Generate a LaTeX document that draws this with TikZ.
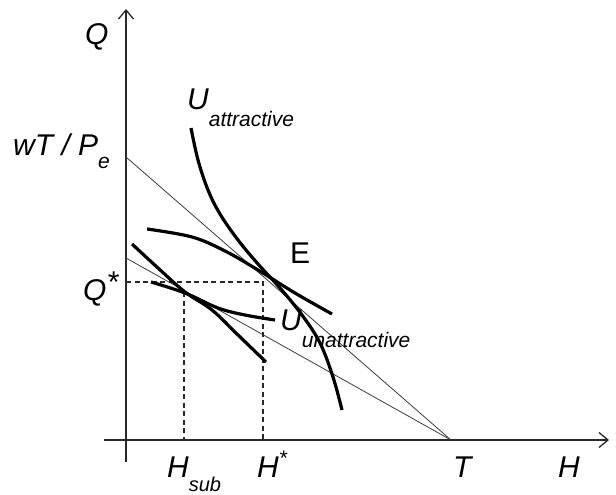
\documentclass[tikz,border=0pt]{standalone}
\usepackage{fontspec}
\setmainfont{Liberation Sans}
\usetikzlibrary{arrows.meta}
\definecolor{axiscol}{RGB}{40,40,40}
\definecolor{budgetcol}{RGB}{60,60,60}
\definecolor{curvecol}{RGB}{0,0,0}

\begin{document}
\begin{tikzpicture}[x=1pt, y=-1pt, >={Straight Barb[length=9pt,width=15pt]},
		axis/.style={axiscol, line width=1.3pt},
		budget/.style={budgetcol, line width=0.8pt},
		icurve/.style={curvecol, line width=3.2pt},
		guide/.style={axiscol, line width=1.2pt, dash pattern=on 5pt off 3.5pt},
		lbl/.style={anchor=base west, inner sep=0pt, font=\fontsize{30}{32}\selectfont\itshape},
	]

	% --- Parameters ---
	\def\subsize{\fontsize{21}{22}\selectfont}

	\useasboundingbox (0,0) rectangle (616,495);

	% =============================================
	%  KEY POINTS
	% =============================================

	\coordinate (O) at (126,440);
	\coordinate (wTP) at (126,157);   % intercept, attractive budget
	\coordinate (Qlow) at (126,258);  % intercept, unattractive budget
	\coordinate (T) at (451,440);
	\coordinate (E) at (263,282);
	\coordinate (S) at (184,292);
	\coordinate (Qstar) at (126,282);
	\coordinate (Hstar) at (263,440);
	\coordinate (Hsub) at (184,440);
	\coordinate (yEnd) at (126,9);
	\coordinate (yBot) at (126,462);
	\coordinate (xEnd) at (609,440);
	\coordinate (xBot) at (104,440);

	% =============================================
	%  AXES
	% =============================================

	\draw[axis, ->] (yBot) -- (yEnd);
	\draw[axis, ->] (xBot) -- (xEnd);

	% =============================================
	%  BUDGET LINES
	% =============================================

	\draw[budget] (wTP) -- (T);
	\draw[budget] (Qlow) -- (T);

	% --- Guides ---
	\draw[guide] (Qstar) -- (E) -- (Hstar);
	\draw[guide] (S) -- (Hsub);

	% =============================================
	%  INDIFFERENCE CURVES
	% =============================================

	% U attractive (steep)
	\draw[icurve] plot[smooth, tension=0.6] coordinates {
			(191,128) (198,160) (208,190) (220,214) (238,240) (258,264)
			(280,288) (302,315) (320,343) (333,377) (342,410)};

	% flat curve through E
	\draw[icurve] plot[smooth, tension=0.6] coordinates {
			(147,229) (192,237) (225,251) (258,270) (295,293) (332,314)};

	% lower, steeper curve
	\draw[icurve] plot[smooth, tension=0.6] coordinates {
			(132,244) (158,268) (185,292) (212,310) (238,335) (266,362)};

	% U unattractive (flatter)
	\draw[icurve] plot[smooth, tension=0.6] coordinates {
			(151,282) (185,293) (218,308) (245,315) (275,320)};

	% =============================================
	%  LABELS
	% =============================================

	\node[lbl] (lblQ) at (85,45) {Q};
	\node[lbl] (lblwTP) at (13,155) {wT / P\raisebox{-13pt}{\subsize e}};
	\node[lbl] (lblUa) at (187,110) {U\raisebox{-17pt}{\subsize attractive}};
	\node[lbl, font=\fontsize{30}{32}\selectfont] (lblE) at (290,263) {E};
	\node[lbl] (lblQstar) at (83,300) {Q\raisebox{8pt}{*}};
	\node[lbl] (lblUu) at (280,330) {U\raisebox{-17pt}{\subsize unattractive}};
	\node[lbl] (lblHsub) at (167,477) {H\raisebox{-14pt}{\fontsize{20}{21}\selectfont sub}};
	\node[lbl] (lblHstar) at (257,477) {H\raisebox{12pt}{\subsize *}};
	\node[lbl] (lblT) at (453,477) {T};
	\node[lbl] (lblH) at (558,477) {H};

\end{tikzpicture}
\end{document}
